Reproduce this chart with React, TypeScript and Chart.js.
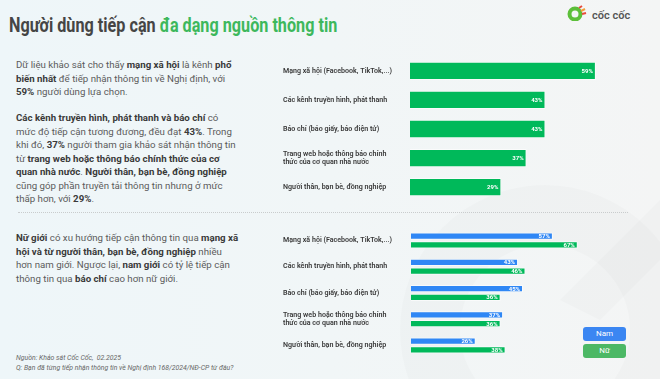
import React, { useEffect, useRef } from "react";
import { Chart, registerables } from "chart.js";

Chart.register(...registerables);

const topCategories: (string | string[])[] = [
  "Mạng xã hội (Facebook, TikTok,...)",
  "Các kênh truyền hình, phát thanh",
  "Báo chí (báo giấy, báo điện tử)",
  ["Trang web hoặc thông báo chính", "thức của cơ quan nhà nước"],
  "Người thân, bạn bè, đồng nghiệp",
];
const topValues = [59, 43, 43, 37, 29];

const genderCategories: (string | string[])[] = [
  "Mạng xã hội (Facebook, TikTok,...)",
  "Các kênh truyền hình, phát thanh",
  "Báo chí (báo giấy, báo điện tử)",
  ["Trang web hoặc thông báo chính", "thức của cơ quan nhà nước"],
  "Người thân, bạn bè, đồng nghiệp",
];
const seriesNames = ["Nam", "Nữ"];
const maleValues = [57, 43, 45, 37, 26];
const femaleValues = [67, 46, 36, 36, 38];

const GREEN = "#00b95a";
const BLUE = "#2f87f5";
const FONT = "Roboto, 'Noto Sans', sans-serif";

const valueLabelPlugin = {
  id: "valueLabels",
  afterDatasetsDraw(chart: any) {
    const ctx = chart.ctx;
    ctx.save();
    ctx.font = `700 6px ${FONT}`;
    ctx.fillStyle = "#ffffff";
    ctx.textAlign = "right";
    ctx.textBaseline = "middle";
    chart.data.datasets.forEach((ds: any, di: number) => {
      const meta = chart.getDatasetMeta(di);
      meta.data.forEach((bar: any, i: number) => {
        ctx.fillText(`${ds.data[i]}%`, bar.x - 3, bar.y + 0.5);
      });
    });
    ctx.restore();
  },
};

function yAxis(width: number) {
  return {
    grid: { display: false },
    border: { display: false },
    afterFit(scale: any) {
      scale.width = width;
    },
    ticks: {
      crossAlign: "far" as const,
      color: "#383838",
      font: { family: FONT, size: 7.1, weight: "600" as any, lineHeight: 1.2 },
      padding: 0,
    },
  };
}

function TopChart() {
  const ref = useRef<HTMLCanvasElement>(null);
  useEffect(() => {
    const chart = new Chart(ref.current!, {
      type: "bar",
      data: {
        labels: topCategories,
        datasets: [
          {
            data: topValues,
            backgroundColor: GREEN,
            borderColor: "rgba(255,255,255,0.6)",
            borderWidth: 1,
            barPercentage: 0.63,
            categoryPercentage: 1,
          },
        ],
      },
      options: {
        indexAxis: "y",
        animation: false,
        responsive: false,
        layout: { padding: 0 },
        plugins: { legend: { display: false }, tooltip: { enabled: false } },
        scales: {
          x: { display: false, min: 0, max: 73 },
          y: yAxis(127),
        },
      },
      plugins: [valueLabelPlugin],
    });
    return () => chart.destroy();
  }, []);
  return (
    <canvas
      ref={ref}
      width={357}
      height={154}
      style={{ position: "absolute", left: 283, top: 52, width: 357, height: 154 }}
    />
  );
}

function GenderChart() {
  const ref = useRef<HTMLCanvasElement>(null);
  useEffect(() => {
    const chart = new Chart(ref.current!, {
      type: "bar",
      data: {
        labels: genderCategories,
        datasets: [
          {
            label: seriesNames[0],
            data: maleValues,
            backgroundColor: BLUE,
            borderColor: "rgba(255,255,255,0.6)",
            borderWidth: 1,
            barPercentage: 0.83,
            categoryPercentage: 0.663,
          },
          {
            label: seriesNames[1],
            data: femaleValues,
            backgroundColor: GREEN,
            borderColor: "rgba(255,255,255,0.6)",
            borderWidth: 1,
            barPercentage: 0.83,
            categoryPercentage: 0.663,
          },
        ],
      },
      options: {
        indexAxis: "y",
        animation: false,
        responsive: false,
        layout: { padding: 0 },
        plugins: { legend: { display: false }, tooltip: { enabled: false } },
        scales: {
          x: { display: false, min: 0, max: 92 },
          y: yAxis(128),
        },
      },
      plugins: [valueLabelPlugin],
    });
    return () => chart.destroy();
  }, []);
  return (
    <canvas
      ref={ref}
      width={357}
      height={140}
      style={{ position: "absolute", left: 283, top: 223, width: 357, height: 140 }}
    />
  );
}

const P: React.CSSProperties = {
  position: "absolute",
  left: 16,
  margin: 0,
  fontFamily: FONT,
  fontSize: 9.7,
  lineHeight: "13.5px",
  color: "#5b5b5b",
  whiteSpace: "nowrap",
};
const B: React.CSSProperties = { fontWeight: 700, color: "#3a3a3a" };

export default function App() {
  return (
    <div
      style={{
        position: "fixed",
        left: 0,
        top: 0,
        width: 660,
        height: 379,
        overflow: "hidden",
        background: "linear-gradient(90deg, #eef6f9 0%, #f1f6f7 50%, #f4f5f5 100%)",
      }}
    >
      <svg width={660} height={379} style={{ position: "absolute", left: 0, top: 0 }}>
        <circle cx={545} cy={330} r={115} fill="none" stroke="rgba(0,0,0,0.016)" strokeWidth={60} />
        <path d="M 560 300 L 660 200 L 660 260 L 600 320 Z" fill="rgba(0,0,0,0.015)" />
      </svg>

      <div
        style={{
          position: "absolute",
          left: 9,
          top: 12,
          fontFamily: FONT,
          fontWeight: 700,
          fontSize: 20,
          lineHeight: "26px",
          color: "#454545",
          whiteSpace: "nowrap",
          transform: "scaleX(0.81)",
          transformOrigin: "left center",
        }}
      >
        Người dùng tiếp cận <span style={{ color: "#3db85c" }}>đa dạng nguồn thông tin</span>
      </div>

      <svg width={22} height={16} style={{ position: "absolute", left: 566, top: 5 }}>
        <circle cx={9} cy={9} r={5.5} fill="none" stroke="#5cbf3a" strokeWidth={4} />
        <path d="M 13 3 L 16 1" stroke="#e84a3a" strokeWidth={2} />
        <path d="M 15 6 L 19 4" stroke="#f39c3a" strokeWidth={2} />
        <path d="M 16 9 L 20 8" stroke="#e84a3a" strokeWidth={2} />
      </svg>
      <div
        style={{
          position: "absolute",
          left: 592,
          top: 9,
          fontFamily: FONT,
          fontWeight: 600,
          fontSize: 11,
          color: "#555",
          whiteSpace: "nowrap",
        }}
      >
        cốc cốc
      </div>

      <p style={{ ...P, top: 58 }}>
        Dữ liệu khảo sát cho thấy <span style={B}>mạng xã hội</span> là kênh <span style={B}>phổ</span>
        <br />
        <span style={B}>biến nhất</span> để tiếp nhận thông tin về Nghị định, với
        <br />
        <span style={B}>59%</span> người dùng lựa chọn.
      </p>

      <p style={{ ...P, top: 111 }}>
        <span style={B}>Các kênh truyền hình, phát thanh và báo chí</span> có
        <br />
        mức độ tiếp cận tương đương, đều đạt <span style={B}>43%</span>. Trong
        <br />
        khi đó, <span style={B}>37%</span> người tham gia khảo sát nhận thông tin
        <br />
        từ <span style={B}>trang web hoặc thông báo chính thức của cơ</span>
        <br />
        <span style={B}>quan nhà nước</span>. <span style={B}>Người thân, bạn bè, đồng nghiệp</span>
        <br />
        cũng góp phần truyền tải thông tin nhưng ở mức
        <br />
        thấp hơn, với <span style={B}>29%</span>.
      </p>

      <div
        style={{
          position: "absolute",
          left: 18,
          top: 212,
          width: 610,
          borderTop: "1.5px dotted #c9cccd",
        }}
      />

      <p style={{ ...P, top: 231 }}>
        <span style={B}>Nữ giới</span> có xu hướng tiếp cận thông tin qua <span style={B}>mạng xã</span>
        <br />
        <span style={B}>hội và từ người thân, bạn bè, đồng nghiệp</span> nhiều
        <br />
        hơn nam giới. Ngược lại, <span style={B}>nam giới</span> có tỷ lệ tiếp cận
        <br />
        thông tin qua <span style={B}>báo chí</span> cao hơn nữ giới.
      </p>

      <div
        style={{
          position: "absolute",
          left: 16,
          top: 354,
          fontFamily: FONT,
          fontStyle: "italic",
          fontSize: 6.9,
          lineHeight: "9.5px",
          color: "#666",
          whiteSpace: "nowrap",
        }}
      >
        Nguồn: Khảo sát Cốc Cốc,&nbsp; 02.2025
        <br />
        Q: Bạn đã từng tiếp nhận thông tin về Nghị định 168/2024/NĐ-CP từ đâu?
      </div>

      <TopChart />
      <GenderChart />

      {[
        { name: seriesNames[0], color: "#3b86f2", top: 327 },
        { name: seriesNames[1], color: "#4cb865", top: 344 },
      ].map((l) => (
        <div
          key={l.name}
          style={{
            position: "absolute",
            left: 583,
            top: l.top,
            width: 43,
            height: 14,
            borderRadius: 3,
            background: l.color,
            color: "#fff",
            fontFamily: FONT,
            fontSize: 8,
            lineHeight: "14px",
            textAlign: "center",
          }}
        >
          {l.name}
        </div>
      ))}
    </div>
  );
}
